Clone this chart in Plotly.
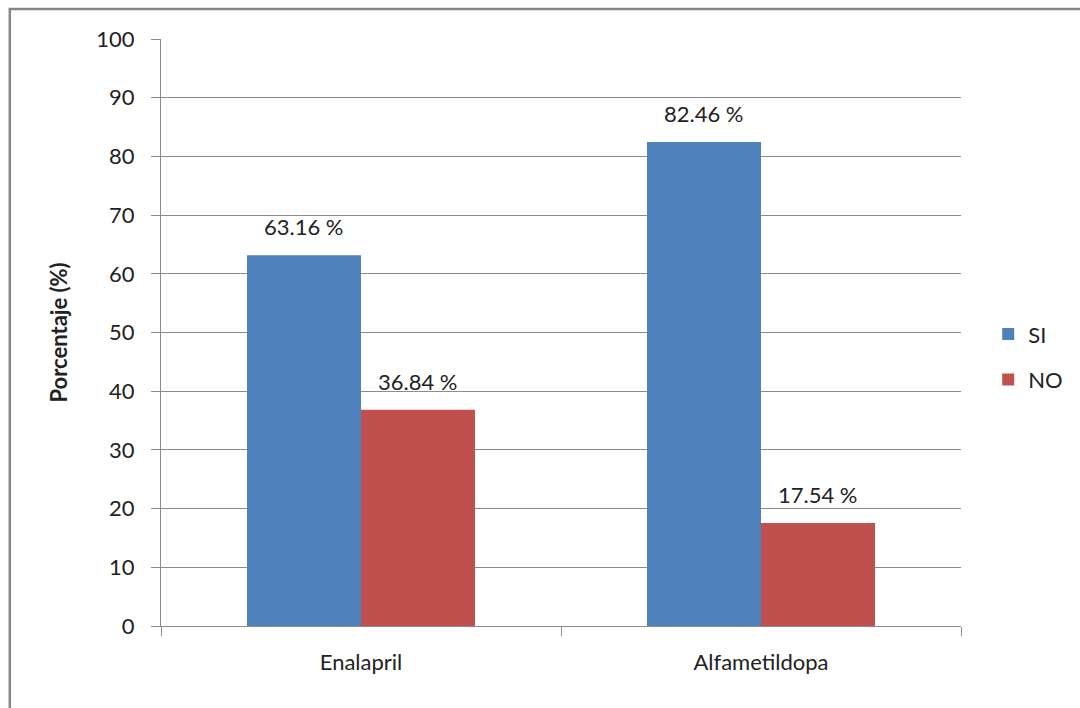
import plotly.graph_objects as go

categories = ["Enalapril", "Alfametildopa"]
si_values = [63.16, 82.46]
no_values = [36.84, 17.54]
series_names = ["SI", "NO"]
y_ticks = [0, 10, 20, 30, 40, 50, 60, 70, 80, 90, 100]

font_family = "Lato, 'Open Sans', sans-serif"
font_size = 22
text_color = "#222222"
colors = ["#4f81bd", "#c0504d"]
grid_color = "#8c8c8c"

fig = go.Figure()
for i, (name, vals) in enumerate(zip(series_names, [si_values, no_values])):
    fig.add_trace(go.Bar(
        x=categories, y=vals, name=name,
        marker=dict(color=colors[i], line=dict(width=0)),
        legendgroup=name,
    ))

# value labels above each bar
bar_offset_px = 57
for i, vals in enumerate([si_values, no_values]):
    shift = -bar_offset_px if i == 0 else bar_offset_px
    for cat, v in zip(categories, vals):
        fig.add_annotation(
            x=cat, y=v, xref="x", yref="y",
            text=f"{v:.2f} %", showarrow=False,
            xshift=shift, yshift=13, yanchor="bottom",
            font=dict(family=font_family, size=font_size, color=text_color),
        )

# outer frame around the chart
fig.add_shape(
    type="rect", xref="paper", yref="paper",
    x0=-0.189, x1=1.16, y0=-0.16, y1=1.051,
    line=dict(color="#878787", width=2.5), fillcolor="rgba(0,0,0,0)",
    layer="below",
)

fig.update_layout(
    width=1080, height=708,
    margin=dict(l=161, r=119, t=39, b=82, autoexpand=False),
    paper_bgcolor="white", plot_bgcolor="white",
    barmode="group", bargap=0.43, bargroupgap=0,
    font=dict(family=font_family, size=font_size, color=text_color),
    legend=dict(
        x=1.034, y=0.458, xanchor="left", yanchor="middle",
        font=dict(family=font_family, size=font_size, color=text_color),
        tracegroupgap=14, itemwidth=30,
        bgcolor="rgba(0,0,0,0)",
    ),
    showlegend=True,
)

fig.update_xaxes(
    type="category", tickson="boundaries", ticks="outside", ticklen=9,
    tickcolor=grid_color, showline=True, linecolor=grid_color, linewidth=1.3,
    showgrid=False, tickfont=dict(family=font_family, size=font_size, color=text_color),
    ticklabelstandoff=16,
)
fig.update_yaxes(
    range=[0, 100], tickvals=y_ticks, ticks="outside", ticklen=9,
    tickcolor=grid_color, showline=True, linecolor=grid_color, linewidth=1.3,
    showgrid=True, gridcolor=grid_color, gridwidth=1.3, zeroline=False,
    tickfont=dict(family=font_family, size=font_size, color=text_color),
    ticklabelstandoff=12,
    title=dict(text="<b>Porcentaje (%)</b>", standoff=22,
               font=dict(family=font_family, size=font_size, color=text_color)),
)

fig.write_html("out.html")
